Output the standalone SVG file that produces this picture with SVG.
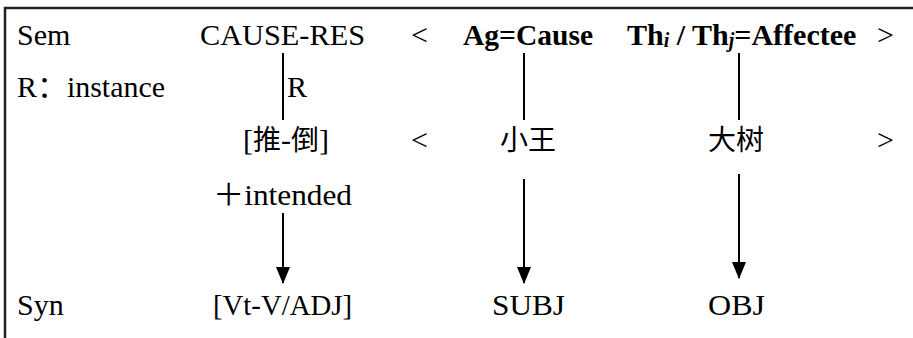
<svg xmlns="http://www.w3.org/2000/svg" width="913" height="338" viewBox="0 0 913 338">
  <style>
    .t { font-family: "Liberation Serif", "DejaVu Serif", "Noto Sans CJK SC", serif; font-size: 30px; fill: #000; }
    .b { font-weight: bold; }
    .cjk { font-family: "Noto Sans CJK SC", sans-serif; font-size: 28px; fill: #000; }
    .link { stroke: #000; stroke-width: 2; fill: none; }
    .arrow { stroke: #000; stroke-width: 2; fill: none; marker-end: url(#head); }
    .frame { stroke: #222; stroke-width: 2.5; fill: none; }
  </style>
  <defs>
    <!-- filled triangular arrowhead, pointing along +x before orientation -->
    <marker id="head" viewBox="0 0 17 14" refX="16" refY="7" markerWidth="17" markerHeight="14" markerUnits="userSpaceOnUse" orient="auto">
      <path d="M0,0 L17,7 L0,14 Z" fill="#000"/>
    </marker>
  </defs>

  <!-- open frame: top and left rule -->
  <path class="frame" d="M5,338 L5,8 L913,8"/>

  <!-- row labels -->
  <g id="sem-label"><text class="t" x="17" y="45">Sem</text></g>
  <g id="r-label"><text class="t" x="17" y="97" textLength="148" lengthAdjust="spacingAndGlyphs">R：instance</text></g>
  <g id="syn-label"><text class="t" x="17" y="315">Syn</text></g>

  <!-- semantic row -->
  <g id="cause-res"><text class="t" x="200" y="45" textLength="165" lengthAdjust="spacingAndGlyphs">CAUSE-RES</text></g>
  <g id="lt-1"><text class="t" x="411" y="45">&lt;</text></g>
  <g id="ag-cause"><text class="t b" x="463" y="45" textLength="130" lengthAdjust="spacingAndGlyphs">Ag=Cause</text></g>
  <g id="theme-affectee">
    <text class="t b" x="627" y="45">Th<tspan font-style="italic" font-size="20" dy="2">i</tspan><tspan dy="-2"> / Th</tspan><tspan font-style="italic" font-size="20" dy="2">j</tspan><tspan dy="-2">=Affectee</tspan></text>
  </g>
  <g id="gt-1"><text class="t" x="877" y="45">&gt;</text></g>

  <!-- instance row -->
  <g id="r-mark"><text class="t" x="287" y="97">R</text></g>
  <g id="tui-dao"><text class="t" x="243" y="150">[<tspan class="cjk">推</tspan>-<tspan class="cjk">倒</tspan>]</text></g>
  <g id="lt-2"><text class="t" x="411" y="150">&lt;</text></g>
  <g id="xiaowang"><text class="cjk" x="500" y="150">小王</text></g>
  <g id="dashu"><text class="cjk" x="708" y="150">大树</text></g>
  <g id="gt-2"><text class="t" x="877" y="150">&gt;</text></g>

  <!-- feature row -->
  <g id="intended"><text class="t" x="213" y="205" textLength="139" lengthAdjust="spacingAndGlyphs">＋intended</text></g>

  <!-- syntactic row -->
  <g id="vt-v-adj"><text class="t" x="213" y="315" textLength="139" lengthAdjust="spacingAndGlyphs">[Vt-V/ADJ]</text></g>
  <g id="subj"><text class="t" x="492" y="315" textLength="73" lengthAdjust="spacingAndGlyphs">SUBJ</text></g>
  <g id="obj"><text class="t" x="708" y="315" textLength="57" lengthAdjust="spacingAndGlyphs">OBJ</text></g>

  <!-- connectors -->
  <g id="connectors">
    <line class="link" x1="283" y1="53" x2="283" y2="120"/>
    <line class="link" x1="524" y1="53" x2="524" y2="120"/>
    <line class="link" x1="739" y1="53" x2="739" y2="120"/>
    <line class="arrow" x1="283" y1="213" x2="283" y2="283"/>
    <line class="arrow" x1="524" y1="179" x2="524" y2="283"/>
    <line class="arrow" x1="739" y1="174" x2="739" y2="278"/>
  </g>
</svg>
